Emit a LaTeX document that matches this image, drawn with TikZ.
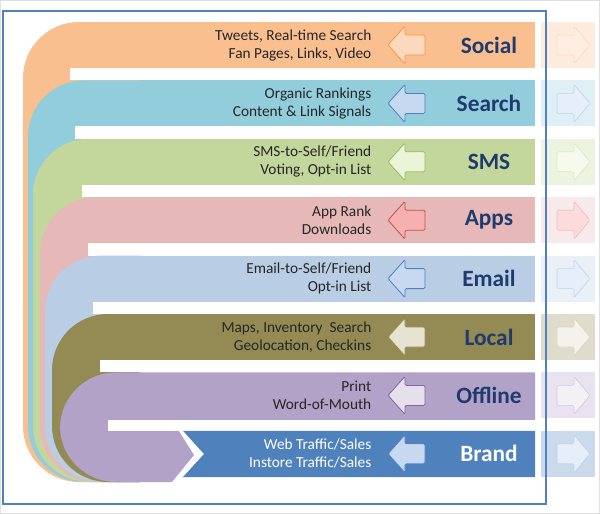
\documentclass[tikz,border=0pt]{standalone}
\usepackage{fontspec}
\setmainfont{Carlito}
\begin{document}
\begin{tikzpicture}[x=0.75pt,y=-0.75pt,
  desc/.style={anchor=east,align=right,font=\fontsize{11.5}{13.5}\selectfont,text=black!85},
  cat/.style={font=\bfseries\fontsize{17.5}{19}\selectfont,text=catc},
  larr/.style={line width=0.6pt,rounded corners=1pt},
  rarr/.style={line width=0.5pt,rounded corners=1pt}]
\definecolor{catc}{HTML}{1F3B6E}
\useasboundingbox (0,0) rectangle (600,514);
\draw[black!12] (0.5,0.5) rectangle (599,513);
\definecolor{cSo}{HTML}{F9BF8F}\definecolor{cSe}{HTML}{92CDDC}
\definecolor{cSm}{HTML}{C3D69B}\definecolor{cAp}{HTML}{E6B9B8}
\definecolor{cEm}{HTML}{B9CDE5}\definecolor{cLo}{HTML}{948A54}
\definecolor{cOf}{HTML}{B3A2C7}\definecolor{cBr}{HTML}{4F81BD}
\definecolor{aSo}{HTML}{FCD9BC}\definecolor{oSo}{HTML}{F79646}
\definecolor{aSe}{HTML}{C6D9F1}\definecolor{oSe}{HTML}{4F81BD}
\definecolor{aSm}{HTML}{EAF5D8}\definecolor{oSm}{HTML}{9BBB59}
\definecolor{aAp}{HTML}{F7B0B0}\definecolor{oAp}{HTML}{C0504D}
\definecolor{aLo}{HTML}{E6E3D3}\definecolor{oLo}{HTML}{948A54}
\definecolor{aOf}{HTML}{E5E0EC}\definecolor{oOf}{HTML}{8064A2}
% U shapes
\foreach \c/\L/\t/\inn [count=\i] in {cSo/23/22/70, cSe/28/80.4/75, cSm/33/138.8/82, cAp/40/197.2/88, cEm/45/255.6/93, cLo/52/314/100}{
  \fill[\c] (535,\t) [rounded corners=42] -- (\L,\t) -- (\L,482) [sharp corners] -- (140,482) -- (140,\t) -- cycle;
  \fill[\c] (140,\t) rectangle (535,\t+46);
  \fill[white] (\inn,\t+46) rectangle (535,\t+58.4);
}
\fill[cOf] (535,372.4) [rounded corners=42] -- (60,372.4) -- (60,482) [sharp corners] -- (172,482) -- (194,455) -- (172,420) -- (535,420) -- cycle;
\fill[white] (108,420) rectangle (535,431);
\fill[cBr] (183,430.8) -- (535,430.8) -- (535,477) -- (183,477) -- (204,454) -- cycle;
% right tiles and arrows
\foreach \c/\t/\a/\o [count=\i] in {cSo/22/aSo/oSo, cSe/80.4/aSe/oSe, cSm/138.8/aSm/oSm, cAp/197.2/aAp/oAp, cEm/255.6/aSe/oSe, cLo/314/aLo/oLo, cOf/372.4/aOf/oOf, cBr/430.8/aSe/oSe}{
  \fill[\c!30] (541,\t) rectangle (595,\t+46);
  \draw[rarr,fill=\a!45,draw=\o!35] (557,\t+13) -- (574,\t+13) -- (574,\t+4) -- (590,\t+23) -- (574,\t+42) -- (574,\t+33) -- (557,\t+33) -- cycle;
  \draw[larr,fill=\a,draw=\o] (425,\t+13) -- (405,\t+13) -- (405,\t+4) -- (388,\t+23) -- (405,\t+42) -- (405,\t+33) -- (425,\t+33) -- cycle;
}
% labels
\node[cat] (nSo) at (489,45) {Social};
\node[cat] (nSe) at (489,103.4) {Search};
\node[cat] (nSm) at (489,161.8) {SMS};
\node[cat] (nAp) at (489,220.2) {Apps};
\node[cat] (nEm) at (489,278.6) {Email};
\node[cat] (nLo) at (489,337) {Local};
\node[cat] (nOf) at (489,395.4) {Offline};
\node[cat,text=white] (nBr) at (489,453.8) {Brand};
\node[desc] (dSo) at (376,45) {Tweets, Real-time Search\\Fan Pages, Links, Video};
\node[desc] (dSe) at (376,103.4) {Organic Rankings\\Content \& Link Signals};
\node[desc] (dSm) at (376,161.8) {SMS-to-Self/Friend\\Voting, Opt-in List};
\node[desc] (dAp) at (376,220.2) {App Rank\\Downloads};
\node[desc] (dEm) at (376,278.6) {Email-to-Self/Friend\\Opt-in List};
\node[desc] (dLo) at (376,337) {Maps, Inventory\ \ Search\\Geolocation, Checkins};
\node[desc] (dOf) at (376,395.4) {Print\\Word-of-Mouth};
\node[desc,text=white] (dBr) at (376,453.8) {Web Traffic/Sales\\Instore Traffic/Sales};
\draw[cBr,line width=1.6pt] (3,11) rectangle (546,504);
\end{tikzpicture}
\end{document}
